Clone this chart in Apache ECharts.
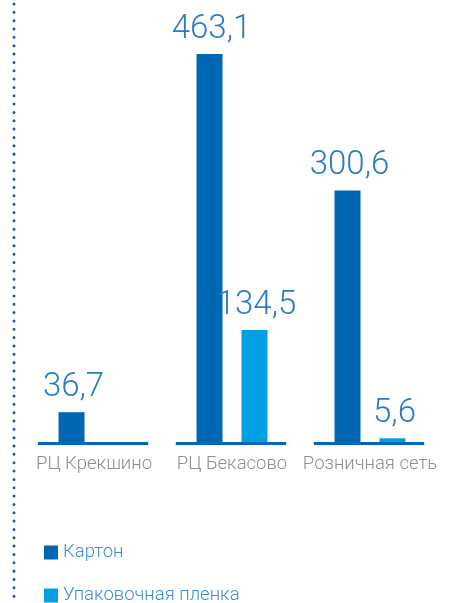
<!DOCTYPE html>
<html>
<head>
<meta charset="utf-8">
<script src="https://cdn.jsdelivr.net/npm/echarts@6/dist/echarts.min.js"></script>
<style>
  html, body { margin: 0; padding: 0; background: #fff; }
  #chart { width: 449px; height: 603px; }
</style>
</head>
<body>
<div id="chart"></div>
<script>
// Volumes by site, thousand units
const categories = ['РЦ Крекшино', 'РЦ Бекасово', 'Розничная сеть'];
const seriesNames = ['Картон', 'Упаковочная пленка'];
const cardboard = [36.7, 463.1, 300.6];
const film = [null, 134.5, 5.6];

const DARK = '#0067b4';
const LIGHT = '#00a0e3';
const LABEL_BLUE = '#2a7cc6';
const FONT = 'Roboto, "Noto Sans", sans-serif';

const chart = echarts.init(document.getElementById('chart'), null, { renderer: 'canvas' });

const valueLabel = {
  show: true,
  position: 'top',
  distance: 8,
  offset: [2, 0],
  color: LABEL_BLUE,
  fontFamily: FONT,
  fontWeight: 300,
  fontSize: 33,
  formatter: p => String(p.value).replace('.', ',')
};

const legendText = { color: '#3f8fd2', fontFamily: FONT, fontWeight: 300, fontSize: 18.5 };

function legendFor(name, top) {
  return {
    orient: 'vertical',
    left: 39,
    top: top,
    itemWidth: 14,
    itemHeight: 14,
    icon: 'rect',
    selectedMode: false,
    textStyle: legendText,
    data: [name]
  };
}

chart.setOption({
  animation: false,
  grid: { left: 25, right: 10, top: 23, bottom: 160, containLabel: false },
  legend: [legendFor(seriesNames[0], 538), legendFor(seriesNames[1], 581)],
  xAxis: {
    type: 'category',
    data: categories,
    axisLine: { show: false },
    axisTick: { show: false },
    axisLabel: {
      interval: 0,
      hideOverlap: false,
      color: '#8f8f8f',
      fontFamily: FONT,
      fontWeight: 300,
      fontSize: 18.5,
      margin: 12
    }
  },
  yAxis: {
    type: 'value',
    min: 0,
    max: 500,
    show: false,
    splitLine: { show: false }
  },
  graphic: [{
    // dotted rule on the left edge
    type: 'line',
    shape: { x1: 14, y1: 4, x2: 14, y2: 603 },
    style: { stroke: '#2f52b8', lineWidth: 3, lineDash: [0.01, 8.33], lineCap: 'round' },
    silent: true
  }],
  series: [
    {
      name: seriesNames[0],
      type: 'bar',
      data: cardboard,
      barWidth: 26,
      barGap: '73%',
      itemStyle: { color: DARK },
      label: valueLabel,
      z: 2
    },
    {
      name: seriesNames[1],
      type: 'bar',
      data: film,
      barWidth: 26,
      itemStyle: { color: LIGHT },
      label: valueLabel,
      z: 2
    },
    {
      // short baseline under each category group
      type: 'custom',
      silent: true,
      z: 3,
      data: categories.map((c, i) => i),
      renderItem: (params, api) => {
        const p = api.coord([api.value(0), 0]);
        const band = api.size([1, 0])[0];
        const half = band * 0.4;
        return {
          type: 'line',
          shape: { x1: p[0] - half - 1, y1: p[1] + 0.5, x2: p[0] + half - 1, y2: p[1] + 0.5 },
          style: { stroke: DARK, lineWidth: 3 }
        };
      },
      encode: { x: 0 }
    }
  ]
});
</script>
</body>
</html>
